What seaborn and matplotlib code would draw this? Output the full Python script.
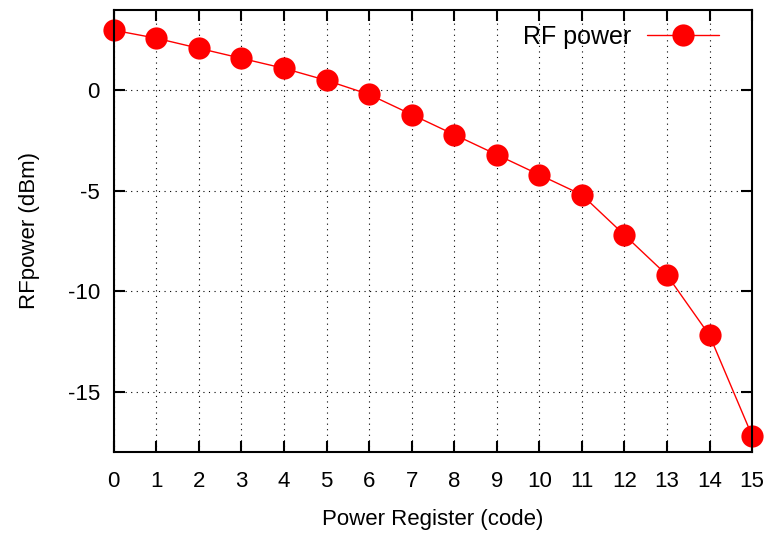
import matplotlib
matplotlib.use('Agg')
import matplotlib.pyplot as plt
import seaborn as sns
import pandas as pd

# Power register code vs measured RF power
codes = list(range(16))
rf_power = [3.0, 2.6, 2.1, 1.6, 1.1, 0.5, -0.2, -1.2, -2.2, -3.2, -4.2, -5.2, -7.2, -9.2, -12.2, -17.2]
x_ticks = list(range(16))
y_ticks = [0, -5, -10, -15]

df = pd.DataFrame({'code': codes, 'power': rf_power})

sns.set_style('ticks')
plt.rcParams['font.family'] = ['Liberation Sans', 'DejaVu Sans']
plt.rcParams['axes.unicode_minus'] = False
plt.rcParams['text.color'] = 'black'
plt.rcParams['axes.labelcolor'] = 'black'
plt.rcParams['xtick.color'] = 'black'
plt.rcParams['ytick.color'] = 'black'

fig, ax = plt.subplots(figsize=(7.69, 5.34), dpi=100)
fig.subplots_adjust(left=0.148, right=0.978, top=0.981, bottom=0.154)

sns.lineplot(data=df, x='code', y='power', ax=ax, color='red', linewidth=1,
             marker='o', markersize=16, markeredgewidth=0, label='RF power', clip_on=False)

ax.set_xlim(0, 15)
ax.set_ylim(-18, 4)
ax.set_xticks(x_ticks)
ax.set_yticks(y_ticks)
ax.grid(True, color='black', linestyle=(0, (1, 4)), linewidth=0.8)
ax.tick_params(direction='in', length=8, width=1.5, top=True, right=True, labelsize=16,
               labelcolor='black')
ax.tick_params(axis='x', pad=14)
ax.tick_params(axis='y', pad=10)
for s in ax.spines.values():
    s.set_linewidth(1.5)
    s.set_color('black')
ax.set_xlabel('Power Register (code)', fontsize=16, labelpad=12)
ax.set_ylabel('RFpower (dBm)', fontsize=16, labelpad=20)

ax.legend(loc='upper right', frameon=False, markerfirst=False, fontsize=18,
          handlelength=2.9, borderaxespad=0.3, handletextpad=0.6, borderpad=0.3,
          bbox_to_anchor=(0.972, 1.0))

plt.savefig('out.png', dpi=100)
